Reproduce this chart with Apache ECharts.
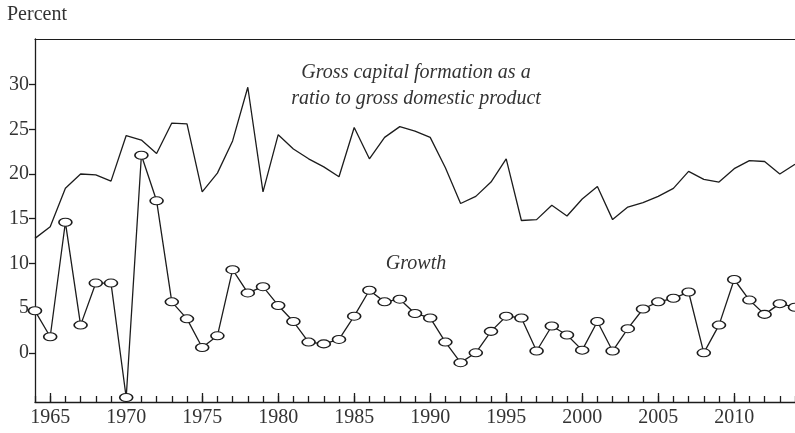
<!DOCTYPE html>
<html>
<head>
<meta charset="utf-8">
<script src="https://cdn.jsdelivr.net/npm/echarts@6/dist/echarts.min.js"></script>
<style>
  html, body { margin: 0; padding: 0; background: #fff; }
  #chart { width: 795px; height: 433px; }
</style>
</head>
<body>
<div id="chart"></div>
<script>
// years 1964 .. 2014
var years = [];
for (var y = 1964; y <= 2014; y++) years.push(y);

var gcfRatio = [12.8, 14.1, 18.4, 20.0, 19.9, 19.2, 24.3, 23.8, 22.3, 25.7,
  25.6, 18.0, 20.1, 23.7, 29.7, 18.0, 24.4, 22.8, 21.7, 20.8,
  19.7, 25.2, 21.7, 24.1, 25.3, 24.8, 24.1, 20.7, 16.7, 17.5,
  19.1, 21.7, 14.8, 14.9, 16.5, 15.3, 17.2, 18.6, 14.9, 16.3,
  16.8, 17.5, 18.4, 20.3, 19.4, 19.1, 20.6, 21.5, 21.4, 20.0,
  21.1];

var growth = [4.7, 1.8, 14.6, 3.1, 7.8, 7.8, -5.0, 22.1, 17.0, 5.7,
  3.8, 0.6, 1.9, 9.3, 6.7, 7.4, 5.3, 3.5, 1.2, 1.0,
  1.5, 4.1, 7.0, 5.7, 6.0, 4.4, 3.9, 1.2, -1.1, 0.0,
  2.4, 4.1, 3.9, 0.2, 3.0, 2.0, 0.3, 3.5, 0.2, 2.7,
  4.9, 5.7, 6.1, 6.8, 0.0, 3.1, 8.2, 5.9, 4.3, 5.5,
  5.1];

var yTicks = [0, 5, 10, 15, 20, 25, 30];
var xLabels = [1965, 1970, 1975, 1980, 1985, 1990, 1995, 2000, 2005, 2010];

var ink = '#1c1c1c';
var serif = '"Liberation Serif", "DejaVu Serif", serif';

function pairs(vals) {
  return years.map(function (yr, i) { return [yr, vals[i]]; });
}

var myChart = echarts.init(document.getElementById('chart'));

var option = {
  animation: false,
  backgroundColor: '#fff',
  grid: { left: 35, top: 39, width: 763, height: 363 },
  graphic: [
    { type: 'text', left: 7, top: 5,
      style: { text: 'Percent', font: '20px ' + serif, fill: '#333' } },
    { type: 'text', x: 416, y: 73,
      style: { text: 'Gross capital formation as a', font: 'italic 20px ' + serif,
        fill: '#333', align: 'center', verticalAlign: 'middle' } },
    { type: 'text', x: 416, y: 99,
      style: { text: 'ratio to gross domestic product', font: 'italic 20px ' + serif,
        fill: '#333', align: 'center', verticalAlign: 'middle' } },
    { type: 'text', x: 416, y: 264,
      style: { text: 'Growth', font: 'italic 20px ' + serif,
        fill: '#333', align: 'center', verticalAlign: 'middle' } }
  ],
  xAxis: [
    {
      type: 'value', min: 1964, max: 2014, position: 'bottom',
      axisLine: { onZero: false, lineStyle: { color: ink, width: 1.3 } },
      axisTick: { inside: true, length: 9, customValues: xLabels,
        lineStyle: { color: ink, width: 1.3 } },
      axisLabel: { customValues: xLabels, color: '#333', fontFamily: serif,
        fontSize: 20, margin: 6,
        formatter: function (v) { return String(v); } },
      splitLine: { show: false }
    },
    {
      // yearly minor ticks
      type: 'value', min: 1964, max: 2014, position: 'bottom',
      axisLine: { show: false, onZero: false },
      axisTick: { inside: true, length: 6, customValues: years,
        lineStyle: { color: ink, width: 1.3 } },
      axisLabel: { show: false },
      splitLine: { show: false }
    },
    {
      // top frame line
      type: 'value', min: 1964, max: 2014, position: 'top',
      axisLine: { show: true, onZero: false, lineStyle: { color: ink, width: 1.2 } },
      axisTick: { show: false },
      axisLabel: { show: false },
      splitLine: { show: false }
    }
  ],
  yAxis: {
    type: 'value', min: -5.5, max: 35.1,
    axisLine: { show: true, onZero: false, lineStyle: { color: ink, width: 1.3 } },
    axisTick: { show: true, length: 6, customValues: yTicks,
      lineStyle: { color: ink, width: 1.3 } },
    axisLabel: { customValues: yTicks, color: '#333', fontFamily: serif,
      fontSize: 20, margin: 6 },
    splitLine: { show: false }
  },
  series: [
    {
      name: 'Gross capital formation', type: 'line', xAxisIndex: 0,
      data: pairs(gcfRatio), showSymbol: false, symbol: 'none',
      lineStyle: { color: ink, width: 1.3 }
    },
    {
      name: 'Growth', type: 'line', xAxisIndex: 0,
      data: pairs(growth),
      symbol: 'path://M0,4 A6,4 0 1,0 12,4 A6,4 0 1,0 0,4 Z',
      symbolSize: [13, 8], symbolKeepAspect: false,
      lineStyle: { color: ink, width: 1.3 },
      itemStyle: { color: '#fff', borderColor: ink, borderWidth: 1.3 }
    }
  ]
};

myChart.setOption(option);
</script>
</body>
</html>
